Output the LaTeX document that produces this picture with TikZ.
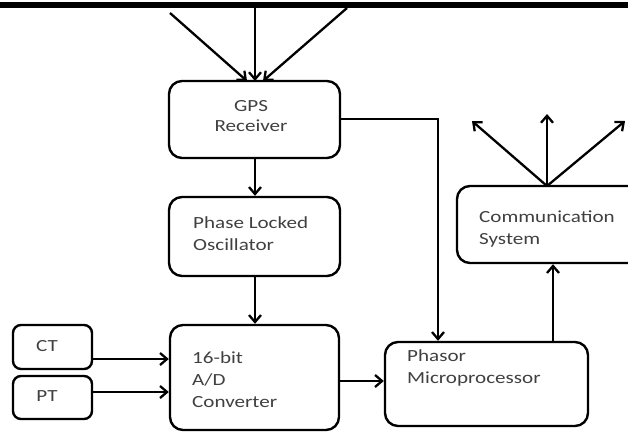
\documentclass[tikz,border=0pt]{standalone}
\usepackage{fontspec}
\setmainfont{Carlito}[FakeStretch=1.24]
\usetikzlibrary{arrows.meta}
\tikzset{
  box/.style={draw, line width=2.4pt, rounded corners=13pt, inner sep=0pt, minimum width=#1},
  sbox/.style={draw, line width=2.4pt, rounded corners=8pt, inner sep=0pt},
  txt/.style={inner sep=0pt, align=left, font=\fontsize{17}{22}\selectfont, text=black!75},
  ctxt/.style={inner sep=0pt, align=center, font=\fontsize{17}{20}\selectfont, text=black!75},
  arr/.style={line width=2.3pt, -{Straight Barb[length=7pt,width=12pt,line width=2.3pt]}},
  ln/.style={line width=2.3pt}
}
\begin{document}
\begin{tikzpicture}[x=1pt,y=-1pt]
\useasboundingbox (0,0) rectangle (628,432);
\clip (0,0) rectangle (628,432);
\fill[black] (0,2) rectangle (628,7.5);
% boxes
\node[box=171pt, minimum height=77pt] (gps) at (254.5,119.5) {};
\node[box=171pt, minimum height=79pt] (plo) at (254.5,236.5) {};
\node[box=169pt, minimum height=105pt] (ad) at (254.5,377.5) {};
\node[sbox, minimum width=79pt, minimum height=44pt] (ct) at (52.5,347) {};
\node[sbox, minimum width=79pt, minimum height=43pt] (pt) at (52.5,397.5) {};
\node[box=203pt, minimum height=84pt] (ph) at (486.5,384) {};
\node[box=200pt, minimum height=77pt] (cs) at (557,224.5) {};
% texts
\node[ctxt] (gpst) at (251,116.5) {GPS\\Receiver};
\node[txt, anchor=west] (plot) at (193,234) {Phase Locked\\Oscillator};
\node[txt, anchor=west] (adt) at (192,379.5) {16-bit\\A/D\\Converter};
\node[ctxt] (ctt) at (47,346) {CT};
\node[ctxt] (ptt) at (47,396) {PT};
\node[txt, anchor=west] (pht) at (407,368) {Phasor\\Microprocessor};
\node[txt, anchor=west] (cst) at (479,228.5) {Communication\\System};
% antenna coordinates
\coordinate (s1) at (170,13);
\coordinate (s2) at (255,7.5);
\coordinate (s3) at (347,8);
\coordinate (e1) at (247,81);
\coordinate (e2) at (255,81);
\coordinate (e3) at (263,81);
\coordinate (ant) at (547,186);
\coordinate (a1) at (472,121);
\coordinate (a2) at (547,114);
\coordinate (a3) at (625,121);
\coordinate (bend) at (438,119);
% connectors
\draw[arr] (s1) -- (e1);
\draw[arr] (s2) -- (e2);
\draw[arr] (s3) -- (e3);
\draw[arr] (gps.south -| e2) -- (plo.north -| e2);
\draw[arr] (plo.south -| e2) -- (ad.north -| e2);
\draw[arr] (ct.east |- 0,359) -- (ad.west |- 0,359);
\draw[arr] (pt.east |- 0,392) -- (ad.west |- 0,392);
\draw[arr] (ad.east |- 0,381) -- (ph.west |- 0,381);
\draw[arr] (gps.east |- bend) -- (bend) -- (ph.north -| bend);
\draw[arr] (ph.north -| 553,0) -- (cs.south -| 553,0);
\draw[arr] (ant) -- (a1);
\draw[arr] (ant) -- (a2);
\draw[arr] (ant) -- (a3);
\end{tikzpicture}
\end{document}
